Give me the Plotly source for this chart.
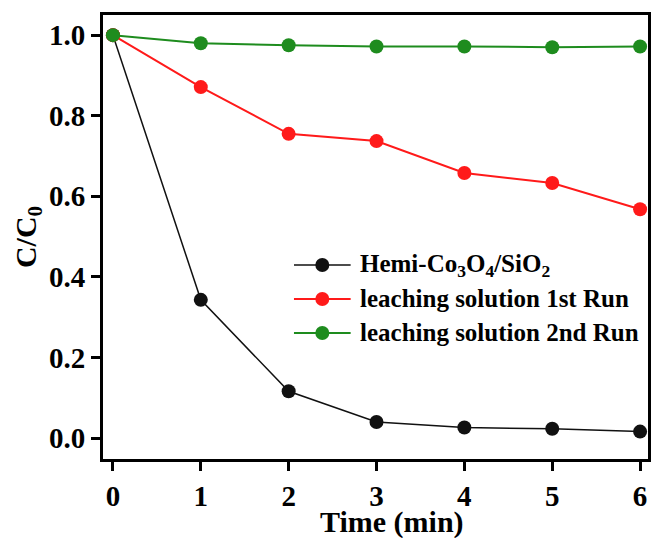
import plotly.graph_objects as go

# Time points (min) and normalised concentration C/C0 for each run
time_min = [0, 1, 2, 3, 4, 5, 6]
hemi_co3o4_sio2 = [1.0, 0.343, 0.116, 0.040, 0.026, 0.023, 0.016]
leach_1st_run = [1.0, 0.871, 0.755, 0.737, 0.658, 0.633, 0.568]
leach_2nd_run = [1.0, 0.980, 0.975, 0.972, 0.972, 0.970, 0.972]

x_ticks = [0, 1, 2, 3, 4, 5, 6]
y_ticks = [0.0, 0.2, 0.4, 0.6, 0.8, 1.0]
y_tick_labels = ["0.0", "0.2", "0.4", "0.6", "0.8", "1.0"]

series_names = [
    "Hemi-Co<sub>3</sub>O<sub>4</sub>/SiO<sub>2</sub>",
    "leaching solution 1st Run",
    "leaching solution 2nd Run",
]
series_values = [hemi_co3o4_sio2, leach_1st_run, leach_2nd_run]
series_colors = ["#111111", "#ff1a1a", "#1e8c1e"]
series_widths = [1.5, 2, 2]

FONT = "Liberation Serif, Times New Roman, serif"

fig = go.Figure()
for name, values, color, lw in zip(series_names, series_values, series_colors, series_widths):
    fig.add_trace(go.Scatter(
        x=time_min, y=values, name=name, mode="lines+markers",
        line=dict(color=color, width=lw),
        marker=dict(color=color, size=14, symbol="circle"),
        showlegend=False,
    ))

axis_common = dict(
    showline=True, linecolor="black", linewidth=3, mirror=True,
    ticks="outside", ticklen=9, tickwidth=2.5, tickcolor="black",
    showgrid=False, zeroline=False,
    tickfont=dict(family=FONT, size=29, color="black", weight="bold"),
)

fig.update_xaxes(range=[-0.113, 6.09], tickvals=x_ticks, **axis_common)
fig.update_yaxes(
    range=[-0.052, 1.05], tickvals=y_ticks, ticktext=y_tick_labels,
    title=dict(text="C/C<sub>0</sub>", standoff=4,
               font=dict(family=FONT, size=30, color="black", weight="bold")),
    **axis_common,
)

# x-axis title, placed slightly right of the axis centre
fig.add_annotation(
    text="Time (min)", xref="paper", yref="paper", x=0.531, y=-0.142,
    xanchor="center", yanchor="middle", showarrow=False,
    font=dict(family=FONT, size=30, color="black", weight="bold"),
)

# Hand-built legend: line segment, dot and label for every series
legend_line_x = (0.3504, 0.4544)
legend_dot_x = 0.4024
legend_text_x = 0.4672
legend_rows_y = [0.4369, 0.3604, 0.2838]
for name, color, lw, ly in zip(series_names, series_colors, series_widths, legend_rows_y):
    fig.add_shape(type="line", xref="paper", yref="paper",
                  x0=legend_line_x[0], x1=legend_line_x[1], y0=ly, y1=ly,
                  line=dict(color=color, width=lw))
    fig.add_shape(type="circle", xref="paper", yref="paper",
                  xsizemode="pixel", ysizemode="pixel",
                  xanchor=legend_dot_x, yanchor=ly,
                  x0=-7, x1=7, y0=-7, y1=7,
                  fillcolor=color, line=dict(width=0))
    fig.add_annotation(
        text=name, xref="paper", yref="paper", x=legend_text_x, y=ly,
        xanchor="left", yanchor="middle", showarrow=False,
        font=dict(family=FONT, size=25, color="black", weight="bold"),
    )

fig.update_layout(
    width=653, height=538,
    margin=dict(l=103, r=2, t=15, b=79),
    paper_bgcolor="white", plot_bgcolor="white",
    showlegend=False,
)

fig.write_html("out.html")
